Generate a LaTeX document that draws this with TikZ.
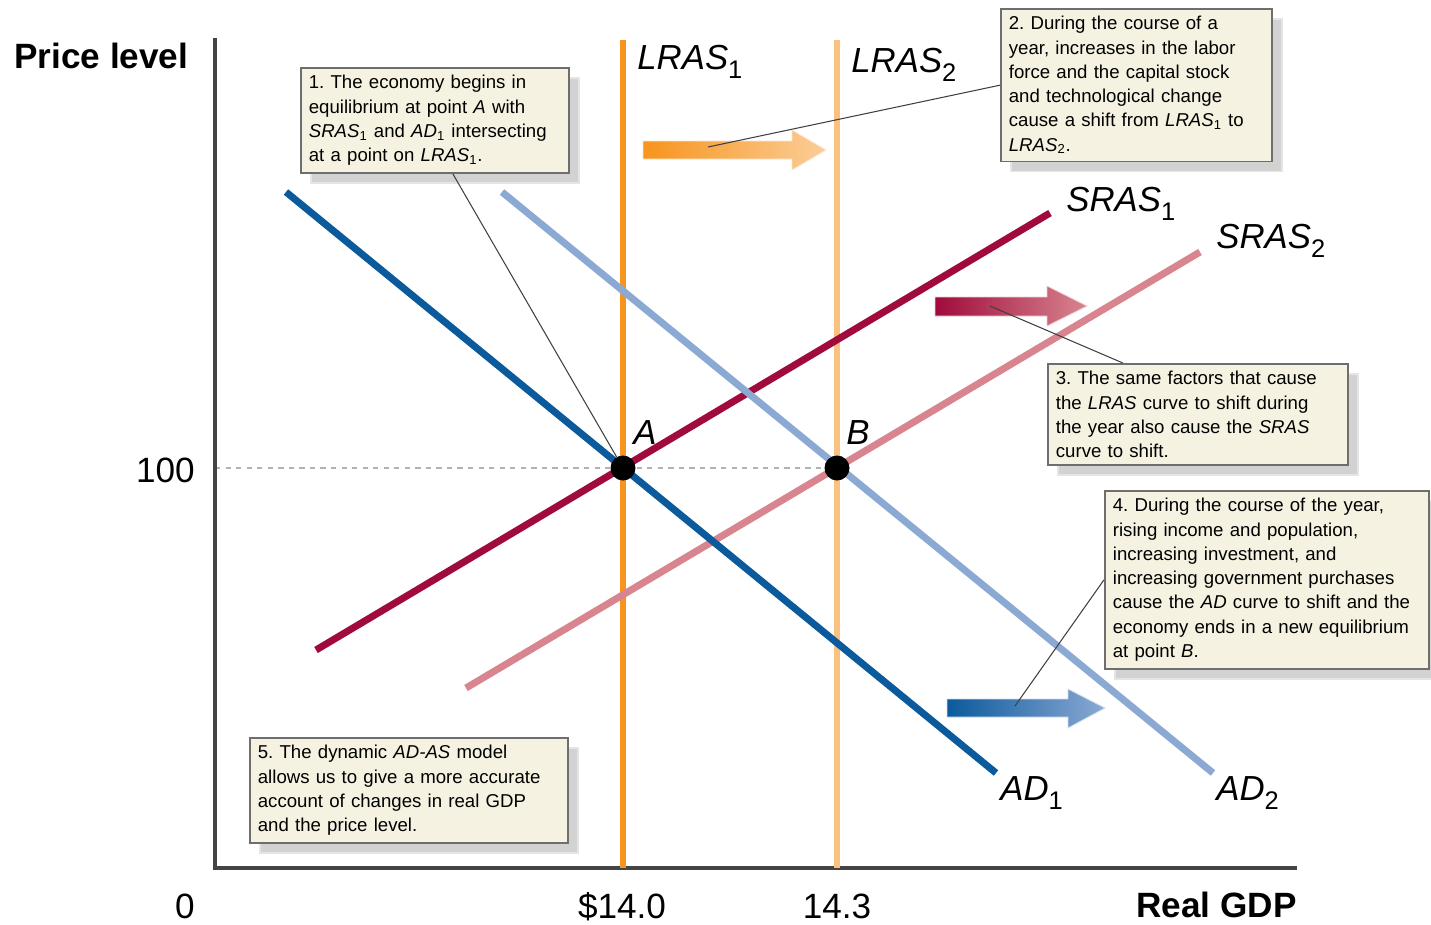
\documentclass[tikz,border=0pt]{standalone}
\usepackage{fontspec}
\setmainfont{Liberation Sans}
\usetikzlibrary{shadows}
\frenchspacing

\definecolor{lrasA}{HTML}{F7941D}
\definecolor{lrasB}{HTML}{FBC17F}
\definecolor{srasA}{HTML}{A00B3C}
\definecolor{srasB}{HTML}{D8858F}
\definecolor{adA}{HTML}{0B5A9C}
\definecolor{adB}{HTML}{8BA9D3}
\definecolor{notefill}{HTML}{F5F2E1}
\definecolor{notedraw}{HTML}{6E6E6E}
\definecolor{shadowfill}{HTML}{D2D2D2}
\definecolor{axisgray}{HTML}{444444}
\newcommand{\lowsub}[1]{\raisebox{-0.28em}{\upshape\fontsize{14.5}{15}\selectfont #1}}

\begin{document}
\begin{tikzpicture}[
		x=0.02cm, y=-0.02cm,
		curve/.style={line width=4pt},
		vline/.style={line width=3.4pt},
		note/.style={anchor=north west, draw=notedraw, line width=1pt, fill=notefill,
			align=left, inner xsep=0.16cm, inner ysep=0.15cm,
			font=\fontsize{10.6}{13.8}\selectfont,
			drop shadow={shadow xshift=0.2cm, shadow yshift=-0.2cm, fill=shadowfill, draw=white!90!black, opacity=1}},
		eqpt/.style={circle, fill=black, inner sep=0pt, minimum size=0.5cm},
		lbl/.style={font=\fontsize{19.8}{22}\selectfont\itshape, inner sep=0pt, anchor=base west},
		axlbl/.style={font=\fontsize{20}{22}\selectfont, inner sep=0pt},
		leader/.style={draw=black!75, line width=0.6pt}]
	\clip (0,0) rectangle (1431,924);
	%% axes
	\draw[gray!60, dashed, line width=0.6pt] (215,468) -- (837,468);
	\draw[axisgray, line width=1.8pt] (215,38) -- (215,868) -- (1297,868);
	%% curves
	\draw[vline, lrasA] (623,40) -- (623,868);
	\draw[vline, lrasB] (837,40) -- (837,868);
	\draw[curve, srasA] (316,650) -- (1050,213);
	\draw[curve, srasB] (466,688) -- (1200,252);
	\draw[curve, adA] (286,192) -- (996,773);
	\draw[curve, adB] (502,192) -- (1213,773);
	%% shift arrows
	\shade[left color=lrasA, right color=lrasB!80!white, draw=lrasB!40!white, line width=0.5pt]
		(643,141) -- (792,141) -- (792,130) -- (826,150) -- (792,170) -- (792,159) -- (643,159) -- cycle;
	\shade[left color=srasA, right color=srasB, draw=srasB!40!white, line width=0.5pt]
		(935,297) -- (1047,297) -- (1047,286) -- (1087,306) -- (1047,326) -- (1047,316) -- (935,316) -- cycle;
	\shade[left color=adA, right color=adB, draw=adB!40!white, line width=0.5pt]
		(947,699) -- (1068,699) -- (1068,689) -- (1105,708) -- (1068,728) -- (1068,717) -- (947,717) -- cycle;
	\coordinate (lrasTip) at (708,147);
	\coordinate (srasTip) at (990,306);
	\coordinate (adTip) at (1015,706);
	%% equilibrium points
	\node (A) at (623,468) [eqpt] {};
	\node (B) at (837,468) [eqpt] {};
	%% notes
	\node (n1) at (300,67) [note, text width=5.04cm] {1. The economy begins in\\
		equilibrium at point \textit{A} with\\
		\textit{SRAS}\textsubscript{1} and \textit{AD}\textsubscript{1} intersecting\\
		at a point on \textit{LRAS}\textsubscript{1}.};
	\node (n2) at (1000,8) [note, text width=5.1cm] {2. During the course of a\\
		year, increases in the labor\\
		force and the capital stock\\
		and technological change\\
		cause a shift from \textit{LRAS}\textsubscript{1} to\\
		\textit{LRAS}\textsubscript{2}.};
	\node (n3) at (1047,363) [note, text width=5.68cm] {3. The same factors that cause\\
		the \textit{LRAS} curve to shift during\\
		the year also cause the \textit{SRAS}\\
		curve to shift.};
	\node (n4) at (1104,490) [note, text width=6.16cm] {4. During the course of the year,\\
		rising income and population,\\
		increasing investment, and\\
		increasing government purchases\\
		cause the \textit{AD} curve to shift and the\\
		economy ends in a new equilibrium\\
		at point \textit{B}.};
	\node (n5) at (249,737) [note, text width=6.04cm] {5. The dynamic \textit{AD-AS} model\\
		allows us to give a more accurate\\
		account of changes in real GDP\\
		and the price level.};
	%% leaders
	\draw[leader] ([xshift=0.36cm]n1.south) -- (A);
	\draw[leader] (n2.west) -- (lrasTip);
	\draw[leader] ([xshift=-1.5cm]n3.north) -- (srasTip);
	\draw[leader] (n4.west) -- (adTip);
	%% labels
	\node (lLRASa) at (637,69) [lbl] {LRAS\lowsub{1}};
	\node (lLRASb) at (851,72) [lbl] {LRAS\lowsub{2}};
	\node (lSRASa) at (1066,211) [lbl] {SRAS\lowsub{1}};
	\node (lSRASb) at (1216,248) [lbl] {SRAS\lowsub{2}};
	\node (lADa) at (1000,800) [lbl] {AD\lowsub{1}};
	\node (lADb) at (1216,800) [lbl] {AD\lowsub{2}};
	\node (lA) at (633,444) [lbl] {A};
	\node (lB) at (846,444) [lbl] {B};
	\node (ylab) at (14,68) [axlbl, anchor=base west, font=\fontsize{20}{22}\selectfont\bfseries] {Price level};
	\node (xlab) at (1297,917) [axlbl, anchor=base east, font=\fontsize{20}{22}\selectfont\bfseries] {Real GDP};
	\node (p100) at (195,482) [axlbl, anchor=base east] {100};
	\node (zero) at (185,918) [axlbl, anchor=base] {0};
	\node (q1) at (622,918) [axlbl, anchor=base] {\$14.0};
	\node (q2) at (837,918) [axlbl, anchor=base] {14.3};
\end{tikzpicture}
\end{document}
